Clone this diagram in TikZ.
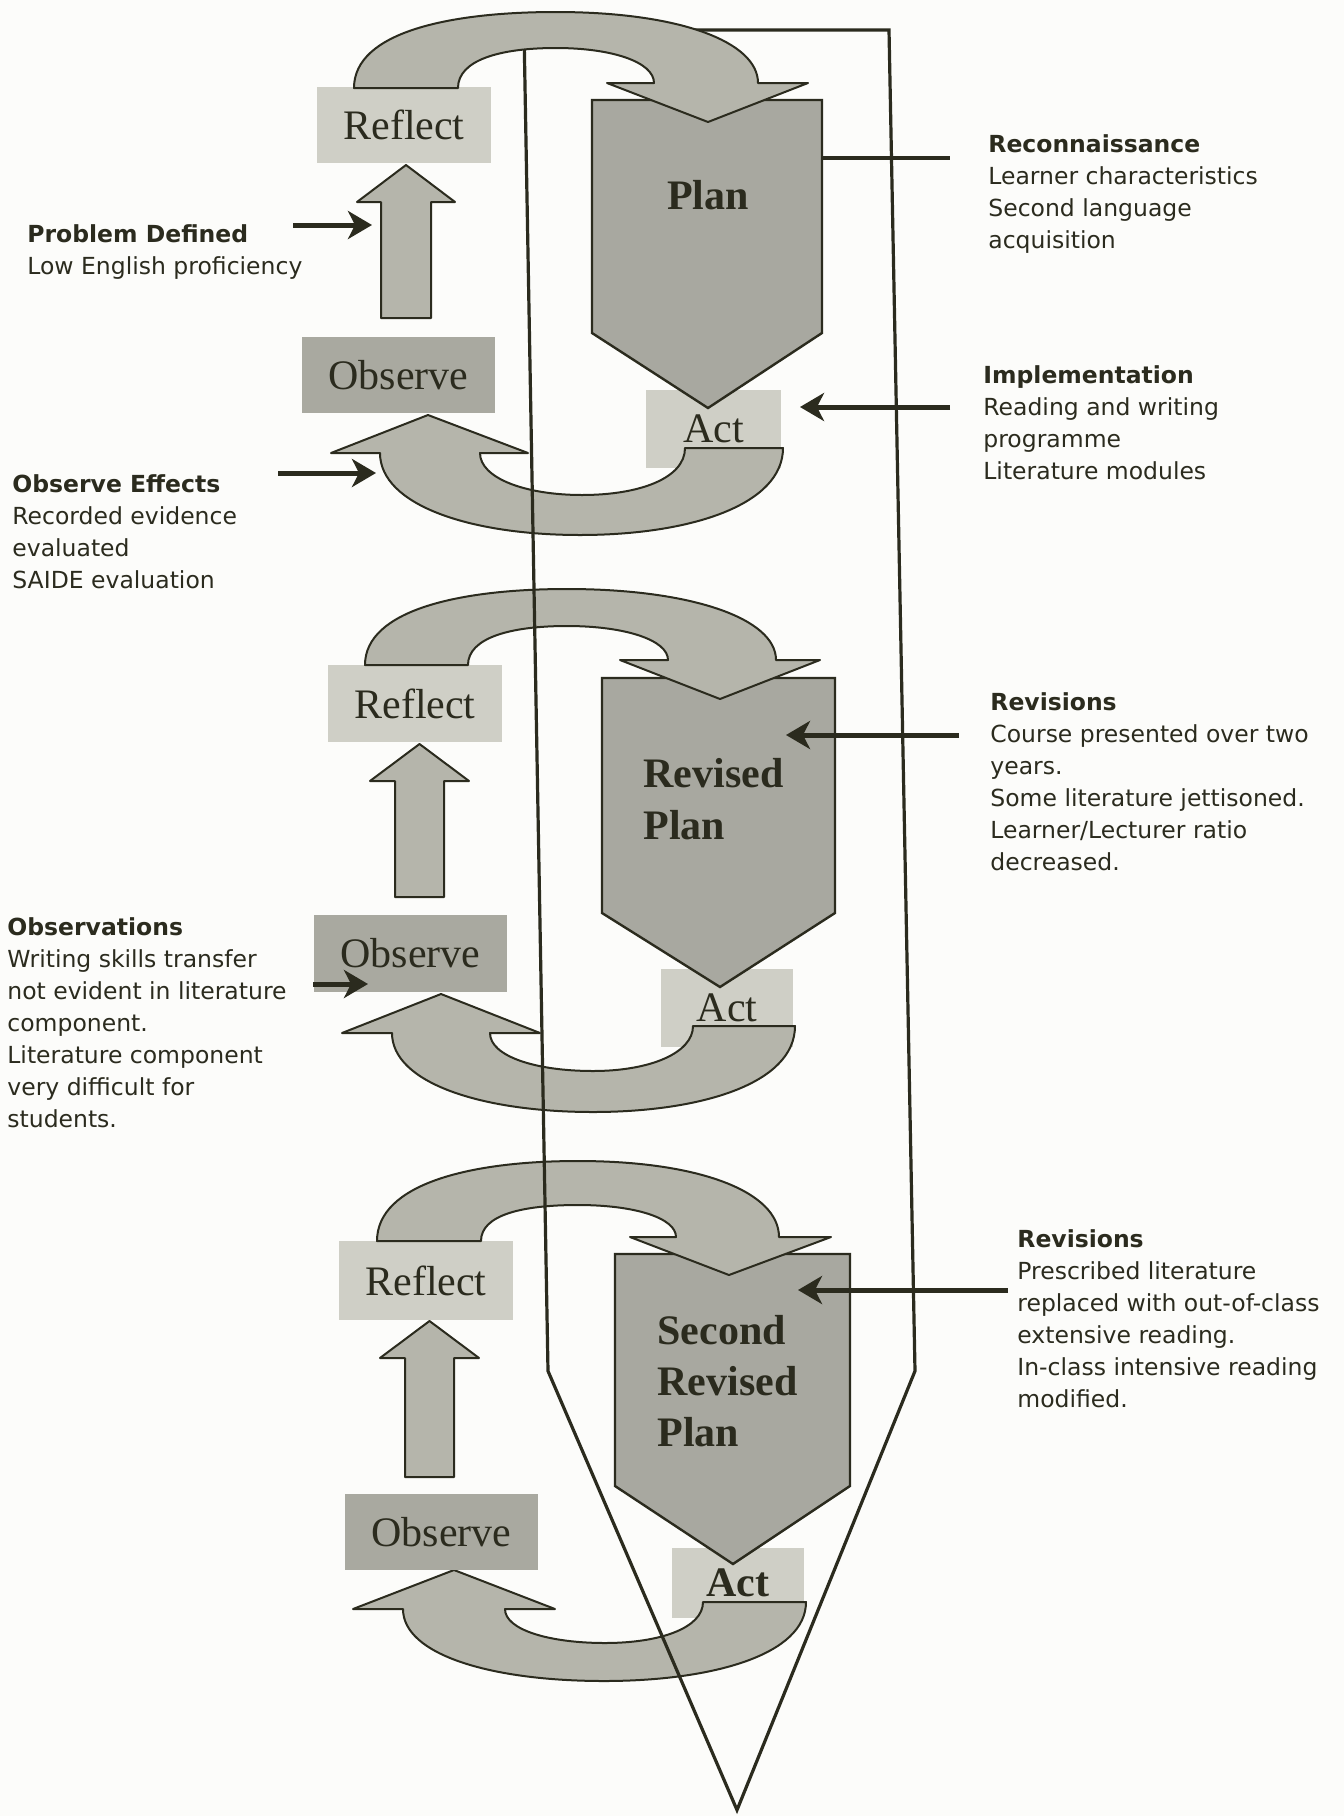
\documentclass[tikz,border=0pt]{standalone}
\usepackage{fontspec}
\setmainfont{DejaVu Sans}
\newfontfamily\serifbox{Liberation Serif}
\usetikzlibrary{arrows.meta}

\definecolor{ink}{HTML}{2B2B1E}
\definecolor{paper}{HTML}{FCFCFA}
\definecolor{palefill}{HTML}{CFCFC6}
\definecolor{darkfill}{HTML}{A9A9A0}
\definecolor{curlfill}{HTML}{B5B5AB}
\definecolor{planfill}{HTML}{A8A8A0}

\begin{document}
\begin{tikzpicture}[x=0.5pt,y=-0.5pt,
  lightbox/.style={fill=palefill, inner sep=0pt, text=ink,
    font=\serifbox\fontsize{21}{25}\selectfont},
  darkbox/.style={lightbox, fill=darkfill},
  curl/.style={fill=curlfill, draw=ink, line width=1pt, line join=round},
  planshape/.style={fill=planfill, draw=ink, line width=1.2pt, line join=miter},
  frame/.style={draw=ink, line width=1.6pt, line join=miter},
  note/.style={anchor=north west, align=left, inner sep=0pt, text=ink,
    font=\fontsize{11.75}{16}\selectfont},
  pointer/.style={draw=ink, line width=2.5pt,
    -{Stealth[length=12pt,width=14pt,inset=3.5pt]}},
  plantext/.style={align=left, inner sep=0pt, text=ink,
    font=\serifbox\bfseries\fontsize{21}{26}\selectfont}
]
\useasboundingbox (0,0) rectangle (1344,1816);
\fill[paper] (0,0) rectangle (1344,1816);

% ---------------- first cycle ----------------
\node[lightbox, minimum width=67.5pt, minimum height=39pt] (act1) at (713.5,429) {Act};
\path[planshape] (592,100) -- (822,100) -- (822,333) -- (708,408) -- (592,333) -- cycle;
\coordinate (plan1-east) at (822,158);
\node[plantext] (plan1) at (708,195) {Plan};
\path[curl] (783,448) .. controls (783,505) and (690,535) .. (580,535)
  .. controls (470,535) and (380,505) .. (380,453)
  -- (331,453) -- (428,415) -- (528,453) -- (480,453)
  .. controls (480,478) and (525,495) .. (582,495)
  .. controls (640,495) and (685,478) .. (685,448) -- cycle;
\node[lightbox, minimum width=87pt, minimum height=38pt] (reflect1) at (404,125) {Reflect};
\node[darkbox, minimum width=96.5pt, minimum height=38pt] (observe1) at (398.5,375) {Observe};
\path[curl] (381,318) -- (381,202) -- (357,202) -- (406,165) -- (455,202) -- (431,202) -- (431,318) -- cycle;

% ---------------- second cycle ----------------
\node[lightbox, minimum width=66pt, minimum height=39pt] (act2) at (727,1008) {Act};
\path[planshape] (602,678) -- (835,678) -- (835,913) -- (720,987) -- (602,913) -- cycle;
\node[plantext, anchor=west] (plan2) at (643,799) {Revised\\Plan};
\path[curl] (795,1026) .. controls (795,1084) and (700,1112) .. (593,1112)
  .. controls (482,1112) and (392,1083) .. (392,1033)
  -- (342,1033) -- (441,994) -- (540,1033) -- (490,1033)
  .. controls (490,1056) and (535,1071) .. (593,1071)
  .. controls (650,1071) and (693,1053) .. (693,1026) -- cycle;
\node[lightbox, minimum width=87pt, minimum height=38.5pt] (reflect2) at (415,703.5) {Reflect};
\node[darkbox, minimum width=96.5pt, minimum height=38.5pt] (observe2) at (410.5,953.5) {Observe};
\path[curl] (395,897) -- (395,781) -- (370,781) -- (419.5,744) -- (469,781) -- (444,781) -- (444,897) -- cycle;
\path[curl] (365,665) .. controls (365,610) and (460,589) .. (567,589)
  .. controls (690,589) and (776,618) .. (776,660)
  -- (820,660) -- (720,699) -- (620,660) -- (668,660)
  .. controls (668,640) and (625,626) .. (567,626)
  .. controls (510,626) and (468,638) .. (468,665) -- cycle;

% ---------------- third cycle ----------------
\node[lightbox, minimum width=66pt, minimum height=35pt,
  font=\serifbox\bfseries\fontsize{21}{25}\selectfont] (act3) at (738,1582.5) {Act};
\path[planshape] (615,1254) -- (850,1254) -- (850,1486) -- (733,1564) -- (615,1486) -- cycle;
\node[plantext, anchor=west, font=\serifbox\bfseries\fontsize{21}{25.5}\selectfont]
  (plan3) at (657,1381) {Second\\Revised\\Plan};
\path[curl] (806,1602) .. controls (806,1655) and (712,1681) .. (604,1681)
  .. controls (492,1681) and (403,1655) .. (403,1609)
  -- (353,1609) -- (454,1570) -- (555,1609) -- (505,1609)
  .. controls (505,1630) and (550,1643) .. (605,1643)
  .. controls (660,1643) and (703,1628) .. (703,1602) -- cycle;
\node[lightbox, minimum width=87pt, minimum height=39.5pt] (reflect3) at (426,1280.5) {Reflect};
\node[darkbox, minimum width=96.5pt, minimum height=38pt] (observe3) at (441.5,1532) {Observe};
\path[curl] (405,1477) -- (405,1358) -- (380,1358) -- (429.5,1321) -- (479,1358) -- (454,1358) -- (454,1477) -- cycle;
\path[curl] (377,1241) .. controls (377,1184) and (470,1161) .. (578,1161)
  .. controls (700,1161) and (779,1192) .. (779,1237)
  -- (831,1237) -- (729,1275) -- (630,1237) -- (676,1237)
  .. controls (676,1218) and (635,1205) .. (578,1205)
  .. controls (522,1205) and (481,1215) .. (481,1241) -- cycle;

% ---------------- enclosing funnel ----------------
\coordinate (f-tl) at (524,30);
\coordinate (f-bl) at (548,1371);
\coordinate (f-tip) at (737,1810);
\coordinate (f-br) at (915,1371);
\coordinate (f-tr) at (889,30);
\path[frame] (f-tl) -- (f-bl) -- (f-tip) -- (f-br) -- (f-tr) -- cycle;

% first curl sits over the funnel's top corner
\path[curl] (354,88) .. controls (354,32) and (450,12) .. (556,12)
  .. controls (680,12) and (758,42) .. (758,83)
  -- (808,83) -- (708,122) -- (607,83) -- (654,83)
  .. controls (654,62) and (612,48) .. (556,48)
  .. controls (500,48) and (458,60) .. (458,88) -- cycle;

% ---------------- side notes ----------------
\node[note] (problem) at (27,219.6) {\strut\textbf{Problem Defined}\\Low English proficiency};
\node[note] (effects) at (12,469.6) {\strut\textbf{Observe Effects}\\Recorded evidence\\evaluated\\SAIDE evaluation};
\node[note] (recon) at (988,129.6) {\strut\textbf{Reconnaissance}\\Learner characteristics\\Second language\\acquisition};
\node[note] (implement) at (983,360.6) {\strut\textbf{Implementation}\\Reading and writing\\programme\\Literature modules};
\node[note] (revise1) at (990,687.6) {\strut\textbf{Revisions}\\Course presented over two\\years.\\Some literature jettisoned.\\Learner/Lecturer ratio\\decreased.};
\node[note] (observations) at (7,912.6) {\strut\textbf{Observations}\\Writing skills transfer\\not evident in literature\\component.\\Literature component\\very difficult for\\students.};
\node[note] (revise2) at (1017,1224.6) {\strut\textbf{Revisions}\\Prescribed literature\\replaced with out-of-class\\extensive reading.\\In-class intensive reading\\modified.};

% ---------------- pointers ----------------
\coordinate (problem-a) at (293,225);   \coordinate (problem-b) at (372,225);
\coordinate (effects-a) at (278,473);   \coordinate (effects-b) at (376,473);
\coordinate (recon-a) at (950,158);
\coordinate (impl-a) at (950,407);      \coordinate (impl-b) at (800,407);
\coordinate (rev1-a) at (959,735);      \coordinate (rev1-b) at (786,735);
\coordinate (obs-a) at (313,984);       \coordinate (obs-b) at (368,984);
\coordinate (rev2-a) at (1008,1290);    \coordinate (rev2-b) at (798,1290);

\draw[pointer] (problem-a) -- (problem-b);
\draw[pointer] (effects-a) -- (effects-b);
\draw[draw=ink, line width=2pt] (plan1-east) -- (recon-a);
\draw[pointer] (impl-a) -- (impl-b);
\draw[pointer] (rev1-a) -- (rev1-b);
\draw[pointer] (obs-a) -- (obs-b);
\draw[pointer] (rev2-a) -- (rev2-b);
\end{tikzpicture}
\end{document}
